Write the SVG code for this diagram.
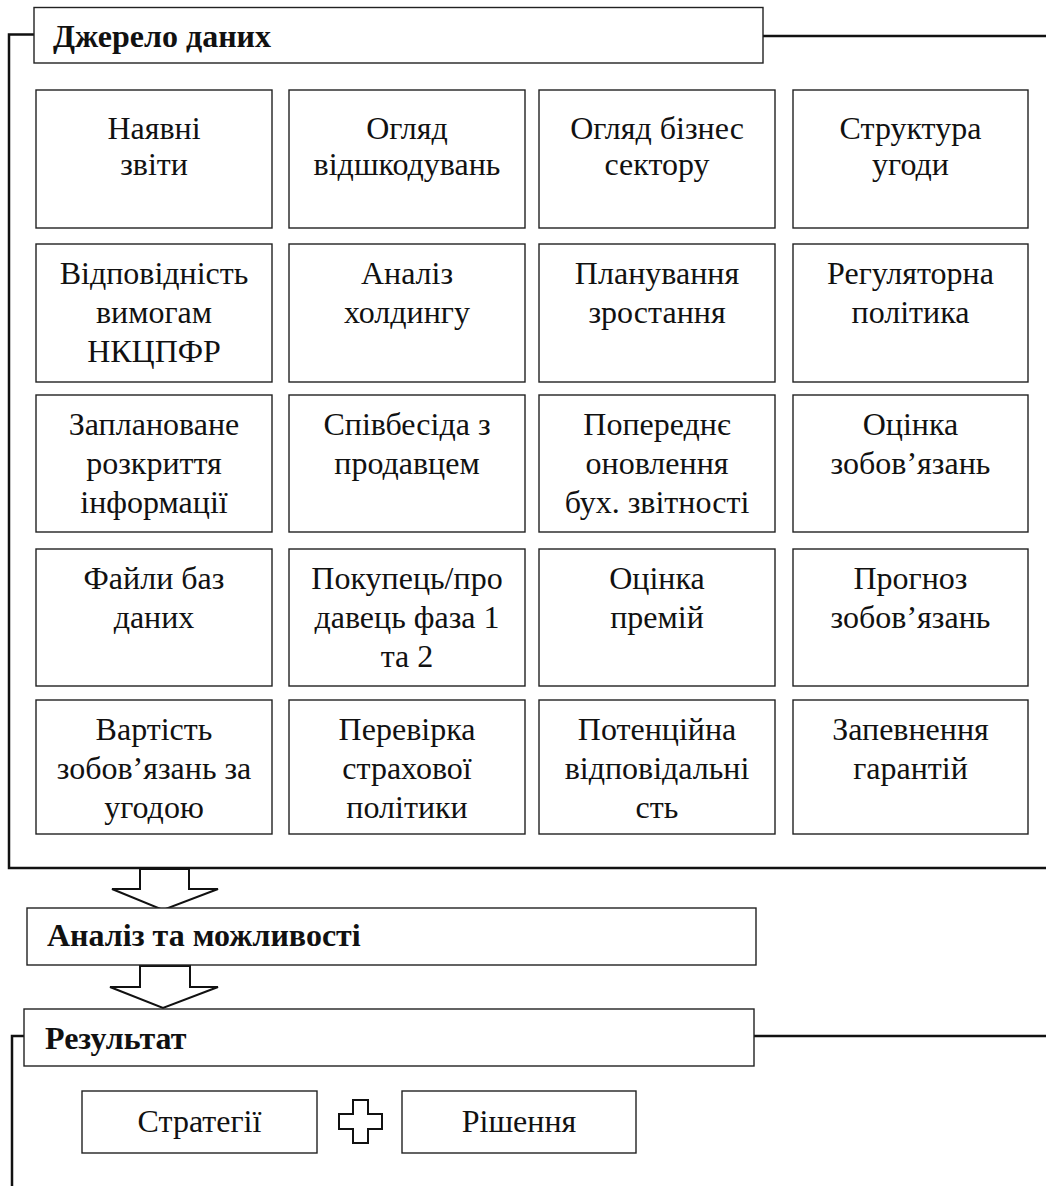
<svg xmlns="http://www.w3.org/2000/svg" width="1046" height="1186" viewBox="0 0 1046 1186">
<style>
.box{fill:#fff;stroke:#222;stroke-width:1.4}
.t{font-family:"Liberation Serif","Times New Roman",serif;font-size:32px;fill:#111;text-anchor:middle}
.h{font-family:"Liberation Serif","Times New Roman",serif;font-size:32px;font-weight:bold;fill:#111}
.br{fill:none;stroke:#111;stroke-width:2.5}
.arr{fill:#fff;stroke:#111;stroke-width:2}
</style>
<rect width="1046" height="1186" fill="#fff"/>
<g id="connectors">
<polyline class="br" points="34,34.5 9,34.5 9,868 1046,868"/>
<line class="br" x1="763" y1="36" x2="1046" y2="36"/>
<polyline class="br" points="24,1036 12,1036 12,1186"/>
<line class="br" x1="754" y1="1036" x2="1046" y2="1036"/>
<polygon class="arr" points="140,869 189,869 189,889 218,889 163,910 112,889 140,889"/>
<polygon class="arr" points="140,966 190,966 190,987 218,987 163,1008 110,987 140,987"/>
</g>
<g id="header-source"><rect class="box" x="34" y="7.5" width="729" height="55.5"/><text class="h" x="53" y="47">Джерело даних</text></g>
<g id="n1"><rect class="box" x="36" y="90" width="236" height="138"/><text class="t" x="154" y="139">Наявні</text><text class="t" x="154" y="175">звіти</text></g>
<g id="n2"><rect class="box" x="289" y="90" width="236" height="138"/><text class="t" x="407" y="139">Огляд</text><text class="t" x="407" y="175">відшкодувань</text></g>
<g id="n3"><rect class="box" x="539" y="90" width="236" height="138"/><text class="t" x="657" y="139">Огляд бізнес</text><text class="t" x="657" y="175">сектору</text></g>
<g id="n4"><rect class="box" x="793" y="90" width="235" height="138"/><text class="t" x="910.5" y="139">Структура</text><text class="t" x="910.5" y="175">угоди</text></g>
<g id="n5"><rect class="box" x="36" y="244" width="236" height="138"/><text class="t" x="154" y="284">Відповідність</text><text class="t" x="154" y="323">вимогам</text><text class="t" x="154" y="362">НКЦПФР</text></g>
<g id="n6"><rect class="box" x="289" y="244" width="236" height="138"/><text class="t" x="407" y="284">Аналіз</text><text class="t" x="407" y="323">холдингу</text></g>
<g id="n7"><rect class="box" x="539" y="244" width="236" height="138"/><text class="t" x="657" y="284">Планування</text><text class="t" x="657" y="323">зростання</text></g>
<g id="n8"><rect class="box" x="793" y="244" width="235" height="138"/><text class="t" x="910.5" y="284">Регуляторна</text><text class="t" x="910.5" y="323">політика</text></g>
<g id="n9"><rect class="box" x="36" y="395" width="236" height="137"/><text class="t" x="154" y="435">Заплановане</text><text class="t" x="154" y="474">розкриття</text><text class="t" x="154" y="513">інформації</text></g>
<g id="n10"><rect class="box" x="289" y="395" width="236" height="137"/><text class="t" x="407" y="435">Співбесіда з</text><text class="t" x="407" y="474">продавцем</text></g>
<g id="n11"><rect class="box" x="539" y="395" width="236" height="137"/><text class="t" x="657" y="435">Попереднє</text><text class="t" x="657" y="474">оновлення</text><text class="t" x="657" y="513">бух. звітності</text></g>
<g id="n12"><rect class="box" x="793" y="395" width="235" height="137"/><text class="t" x="910.5" y="435">Оцінка</text><text class="t" x="910.5" y="474">зобов’язань</text></g>
<g id="n13"><rect class="box" x="36" y="549" width="236" height="137"/><text class="t" x="154" y="589">Файли баз</text><text class="t" x="154" y="628">даних</text></g>
<g id="n14"><rect class="box" x="289" y="549" width="236" height="137"/><text class="t" x="407" y="589">Покупець/про</text><text class="t" x="407" y="628">давець фаза 1</text><text class="t" x="407" y="667">та 2</text></g>
<g id="n15"><rect class="box" x="539" y="549" width="236" height="137"/><text class="t" x="657" y="589">Оцінка</text><text class="t" x="657" y="628">премій</text></g>
<g id="n16"><rect class="box" x="793" y="549" width="235" height="137"/><text class="t" x="910.5" y="589">Прогноз</text><text class="t" x="910.5" y="628">зобов’язань</text></g>
<g id="n17"><rect class="box" x="36" y="700" width="236" height="134"/><text class="t" x="154" y="740">Вартість</text><text class="t" x="154" y="779">зобов’язань за</text><text class="t" x="154" y="818">угодою</text></g>
<g id="n18"><rect class="box" x="289" y="700" width="236" height="134"/><text class="t" x="407" y="740">Перевірка</text><text class="t" x="407" y="779">страхової</text><text class="t" x="407" y="818">політики</text></g>
<g id="n19"><rect class="box" x="539" y="700" width="236" height="134"/><text class="t" x="657" y="740">Потенційна</text><text class="t" x="657" y="779">відповідальні</text><text class="t" x="657" y="818">сть</text></g>
<g id="n20"><rect class="box" x="793" y="700" width="235" height="134"/><text class="t" x="910.5" y="740">Запевнення</text><text class="t" x="910.5" y="779">гарантій</text></g>
<g id="analysis"><rect class="box" x="27" y="908" width="729" height="57"/><text class="h" x="47" y="946">Аналіз та можливості</text></g>
<g id="result"><rect class="box" x="24" y="1009" width="730" height="57"/><text class="h" x="45" y="1049">Результат</text></g>
<g id="strategies"><rect class="box" x="82" y="1091" width="235" height="62"/><text class="t" x="199.5" y="1132">Стратегії</text></g>
<g id="plus"><polygon class="arr" points="353,1100 368,1100 368,1114 382,1114 382,1129 368,1129 368,1143 353,1143 353,1129 339,1129 339,1114 353,1114"/></g>
<g id="decisions"><rect class="box" x="402" y="1091" width="234" height="62"/><text class="t" x="519" y="1132">Рішення</text></g>
</svg>
